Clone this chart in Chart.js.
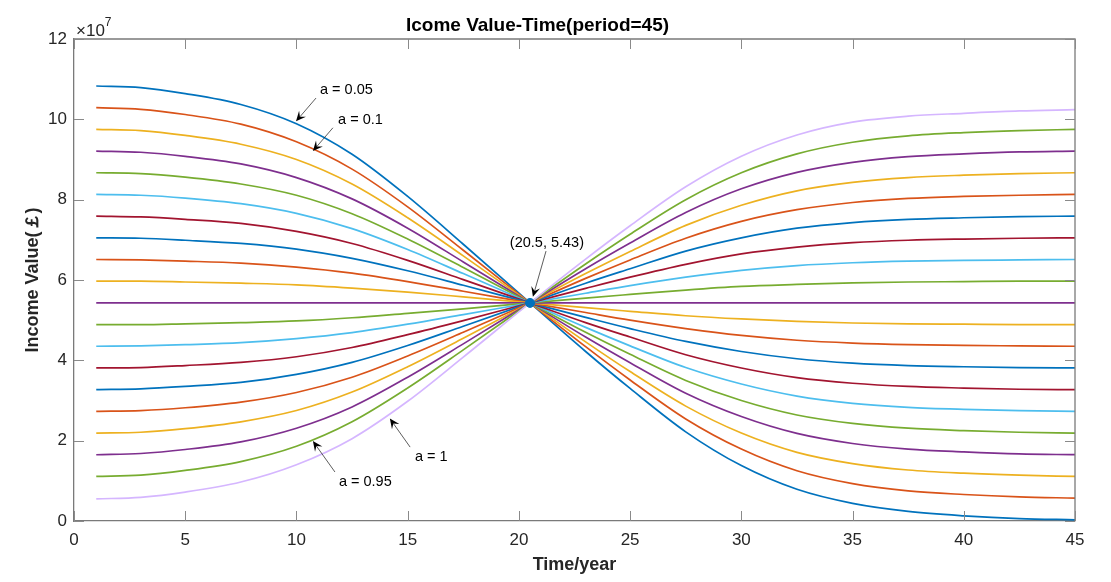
<!DOCTYPE html>
<html>
<head>
<meta charset="utf-8">
<script src="https://cdn.jsdelivr.net/npm/chart.js@4"></script>
<style>
  html, body { margin: 0; padding: 0; background: #fff; }
  #wrap { width: 1111px; height: 582px; }
</style>
</head>
<body>
<div id="wrap"><canvas id="chart" width="1111" height="582"></canvas></div>
<script>
const years = [1, 3, 5, 7.5, 10, 12.5, 15, 17.5, 20.5, 23, 25, 27.5, 30, 32.5, 35, 37.5, 40, 42.5, 45];

// income values, in units of 1e7, one array per a
const a005 = [10.83, 10.79, 10.64, 10.37, 9.89, 9.13, 8.08, 6.89, 5.43, 4.22, 3.30, 2.22, 1.38, 0.79, 0.44, 0.24, 0.13, 0.06, 0.03];
const a010 = [10.29, 10.25, 10.12, 9.88, 9.44, 8.76, 7.82, 6.74, 5.43, 4.34, 3.51, 2.54, 1.79, 1.25, 0.93, 0.75, 0.66, 0.60, 0.57];
const a015 = [9.75, 9.72, 9.60, 9.38, 9.00, 8.39, 7.55, 6.60, 5.43, 4.46, 3.72, 2.86, 2.19, 1.71, 1.43, 1.27, 1.19, 1.14, 1.11];
const a020 = [9.21, 9.18, 9.08, 8.89, 8.55, 8.02, 7.29, 6.45, 5.43, 4.58, 3.94, 3.18, 2.60, 2.18, 1.93, 1.79, 1.72, 1.67, 1.65];
const a025 = [8.67, 8.65, 8.56, 8.39, 8.11, 7.65, 7.02, 6.31, 5.43, 4.70, 4.15, 3.50, 3.00, 2.64, 2.43, 2.31, 2.25, 2.21, 2.19];
const a030 = [8.13, 8.11, 8.04, 7.90, 7.66, 7.28, 6.76, 6.16, 5.43, 4.82, 4.36, 3.82, 3.41, 3.11, 2.93, 2.83, 2.78, 2.75, 2.73];
const a035 = [7.59, 7.57, 7.51, 7.41, 7.21, 6.91, 6.49, 6.01, 5.43, 4.94, 4.58, 4.14, 3.81, 3.57, 3.43, 3.35, 3.31, 3.28, 3.27];
const a040 = [7.05, 7.04, 6.99, 6.91, 6.77, 6.54, 6.23, 5.87, 5.43, 5.07, 4.79, 4.47, 4.22, 4.04, 3.93, 3.87, 3.84, 3.82, 3.81];
const a045 = [6.51, 6.50, 6.47, 6.42, 6.32, 6.17, 5.96, 5.72, 5.43, 5.19, 5.00, 4.79, 4.62, 4.50, 4.43, 4.39, 4.37, 4.36, 4.35];
const a050 = [5.97, 5.97, 5.95, 5.92, 5.88, 5.80, 5.70, 5.58, 5.43, 5.31, 5.22, 5.11, 5.03, 4.97, 4.93, 4.91, 4.90, 4.89, 4.89];
const a055 = [5.43, 5.43, 5.43, 5.43, 5.43, 5.43, 5.43, 5.43, 5.43, 5.43, 5.43, 5.43, 5.43, 5.43, 5.43, 5.43, 5.43, 5.43, 5.43];
const a060 = [4.89, 4.89, 4.91, 4.94, 4.98, 5.06, 5.17, 5.28, 5.43, 5.55, 5.64, 5.75, 5.84, 5.89, 5.93, 5.95, 5.96, 5.97, 5.97];
const a065 = [4.35, 4.36, 4.39, 4.44, 4.54, 4.69, 4.90, 5.14, 5.43, 5.67, 5.86, 6.07, 6.24, 6.36, 6.43, 6.47, 6.49, 6.50, 6.51];
const a070 = [3.81, 3.82, 3.87, 3.95, 4.09, 4.32, 4.64, 4.99, 5.43, 5.79, 6.07, 6.39, 6.65, 6.82, 6.93, 6.99, 7.02, 7.04, 7.05];
const a075 = [3.27, 3.29, 3.35, 3.45, 3.65, 3.95, 4.37, 4.85, 5.43, 5.92, 6.28, 6.72, 7.05, 7.29, 7.43, 7.51, 7.55, 7.58, 7.59];
const a080 = [2.73, 2.75, 2.82, 2.96, 3.20, 3.58, 4.11, 4.70, 5.43, 6.04, 6.50, 7.04, 7.46, 7.75, 7.93, 8.03, 8.08, 8.11, 8.13];
const a085 = [2.19, 2.21, 2.30, 2.47, 2.75, 3.21, 3.84, 4.55, 5.43, 6.16, 6.71, 7.36, 7.86, 8.22, 8.43, 8.55, 8.61, 8.65, 8.67];
const a090 = [1.65, 1.68, 1.78, 1.97, 2.31, 2.84, 3.58, 4.41, 5.43, 6.28, 6.92, 7.68, 8.27, 8.68, 8.93, 9.07, 9.14, 9.19, 9.21];
const a095 = [1.11, 1.14, 1.26, 1.48, 1.86, 2.47, 3.31, 4.26, 5.43, 6.40, 7.14, 8.00, 8.67, 9.14, 9.43, 9.59, 9.67, 9.72, 9.75];
const a100 = [0.55, 0.59, 0.72, 0.97, 1.40, 2.05, 2.98, 4.08, 5.43, 6.52, 7.35, 8.32, 9.08, 9.61, 9.93, 10.08, 10.15, 10.21, 10.24];

const series = [a005, a010, a015, a020, a025, a030, a035, a040, a045, a050,
                a055, a060, a065, a070, a075, a080, a085, a090, a095, a100];

// matlab colour order, last one is the custom lilac
const lineColors = ['#0072BD', '#D95319', '#EDB120', '#7E2F8E', '#77AC30', '#4DBEEE', '#A2142F'];
const lastColor = '#D5B6FF';

const xTicks = [0, 5, 10, 15, 20, 25, 30, 35, 40, 45];
const yTicks = [0, 2, 4, 6, 8, 10, 12];

const crossPoint = { x: 20.5, y: 5.43 };

// text notes with arrows, in data units
const notes = [
  { text: 'a = 0.05', tx: 11.06, ty: 10.73, from: [10.88, 10.53], to: [9.98, 9.95] },
  { text: 'a = 0.1', tx: 11.87, ty: 9.98, from: [11.64, 9.79], to: [10.74, 9.21] },
  { text: '(20.5, 5.43)', tx: 21.26, ty: 6.92, from: [21.22, 6.72], to: [20.63, 5.58], center: true },
  { text: 'a = 1', tx: 15.33, ty: 1.59, from: [15.11, 1.84], to: [14.2, 2.55] },
  { text: 'a = 0.95', tx: 11.91, ty: 0.97, from: [11.73, 1.22], to: [10.74, 1.99] }
];

const FONT = '"Liberation Sans", Arial, sans-serif';
const AXIS = '#7a7a7a';
const TEXT = '#262626';

const datasets = series.map((vals, i) => ({
  data: vals.map((v, k) => ({ x: years[k], y: v })),
  borderColor: i === series.length - 1 ? lastColor : lineColors[i % lineColors.length],
  borderWidth: 1.7,
  pointRadius: 0,
  fill: false,
  cubicInterpolationMode: 'monotone',
  order: series.length - i
}));

datasets.push({
  data: [crossPoint],
  showLine: false,
  pointRadius: 4.5,
  pointBackgroundColor: '#0072BD',
  pointBorderColor: '#0072BD',
  order: 0
});

function drawArrow(ctx, x1, y1, x2, y2) {
  const ang = Math.atan2(y2 - y1, x2 - x1);
  const c = Math.cos(ang), s = Math.sin(ang);
  const len = 10, w = 4.5;
  ctx.beginPath();
  ctx.moveTo(x1, y1);
  ctx.lineTo(x2 - c * len * 0.6, y2 - s * len * 0.6);
  ctx.stroke();
  ctx.beginPath();
  ctx.moveTo(x2, y2);
  ctx.lineTo(x2 - c * len + s * w, y2 - s * len - c * w);
  ctx.lineTo(x2 - c * len * 0.6, y2 - s * len * 0.6);
  ctx.lineTo(x2 - c * len - s * w, y2 - s * len + c * w);
  ctx.closePath();
  ctx.fill();
}

const matlabBox = {
  id: 'matlabBox',
  afterDatasetsDraw(chart) {
    const { ctx, chartArea: area, scales: { x, y } } = chart;
    ctx.save();

    // box top & right
    ctx.strokeStyle = AXIS;
    ctx.lineWidth = 1.3;
    ctx.beginPath();
    ctx.moveTo(area.left, area.top);
    ctx.lineTo(area.right, area.top);
    ctx.lineTo(area.right, area.bottom);
    ctx.stroke();

    // inward ticks on all four sides
    ctx.lineWidth = 1;
    ctx.strokeStyle = '#8a8a8a';
    ctx.beginPath();
    xTicks.forEach(t => {
      const px = Math.round(x.getPixelForValue(t)) + 0.5;
      ctx.moveTo(px, area.bottom); ctx.lineTo(px, area.bottom - 10);
      ctx.moveTo(px, area.top); ctx.lineTo(px, area.top + 10);
    });
    yTicks.forEach(t => {
      const py = Math.round(y.getPixelForValue(t)) + 0.5;
      ctx.moveTo(area.left, py); ctx.lineTo(area.left + 10, py);
      ctx.moveTo(area.right, py); ctx.lineTo(area.right - 10, py);
    });
    ctx.stroke();

    // exponent
    ctx.fillStyle = TEXT;
    ctx.textBaseline = 'alphabetic';
    ctx.textAlign = 'left';
    ctx.font = '17px ' + FONT;
    ctx.fillText('\u00d710', area.left + 2, area.top - 3);
    const w10 = ctx.measureText('\u00d710').width;
    ctx.font = '12px ' + FONT;
    ctx.fillText('7', area.left + 2 + w10, area.top - 13);

    // notes and arrows
    ctx.font = '14.5px ' + FONT;
    ctx.textBaseline = 'middle';
    notes.forEach(n => {
      ctx.textAlign = n.center ? 'center' : 'left';
      ctx.fillStyle = '#000';
      ctx.fillText(n.text, x.getPixelForValue(n.tx), y.getPixelForValue(n.ty));
      ctx.strokeStyle = '#333';
      ctx.lineWidth = 0.8;
      drawArrow(ctx,
        x.getPixelForValue(n.from[0]), y.getPixelForValue(n.from[1]),
        x.getPixelForValue(n.to[0]), y.getPixelForValue(n.to[1]));
    });
    ctx.restore();
  }
};

new Chart(document.getElementById('chart'), {
  type: 'line',
  data: { datasets },
  options: {
    responsive: false,
    animation: false,
    layout: { padding: { left: 0, right: 36, top: 0, bottom: 0 } },
    plugins: {
      legend: { display: false },
      tooltip: { enabled: false },
      title: {
        display: true,
        text: 'Icome Value-Time(period=45)',
        color: '#000',
        font: { family: FONT, size: 19, weight: 'bold' },
        padding: { top: 14, bottom: 2.2 }
      }
    },
    scales: {
      x: {
        type: 'linear',
        min: 0,
        max: 45,
        afterBuildTicks: s => { s.ticks = xTicks.map(v => ({ value: v })); },
        afterFit: s => { s.height = 61; },
        grid: { display: false, drawTicks: false },
        border: { display: true, color: AXIS, width: 1.3 },
        ticks: { color: TEXT, font: { family: FONT, size: 17 }, padding: 9, maxRotation: 0 },
        title: {
          display: true,
          text: 'Time/year',
          color: TEXT,
          font: { family: FONT, size: 18, weight: 'bold' },
          padding: { top: 0, bottom: 6.2 }
        }
      },
      y: {
        type: 'linear',
        min: 0,
        max: 12,
        afterBuildTicks: s => { s.ticks = yTicks.map(v => ({ value: v })); },
        afterFit: s => { s.width = 74; },
        grid: { display: false, drawTicks: false },
        border: { display: true, color: AXIS, width: 1.3 },
        ticks: { color: TEXT, font: { family: FONT, size: 17 }, padding: 7 },
        title: {
          display: true,
          text: 'Income Value(\uffe1)',
          color: TEXT,
          font: { family: FONT, size: 18, weight: 'bold' },
          padding: { top: 22.2, bottom: 0 }
        }
      }
    }
  },
  plugins: [matlabBox]
});
</script>
</body>
</html>
